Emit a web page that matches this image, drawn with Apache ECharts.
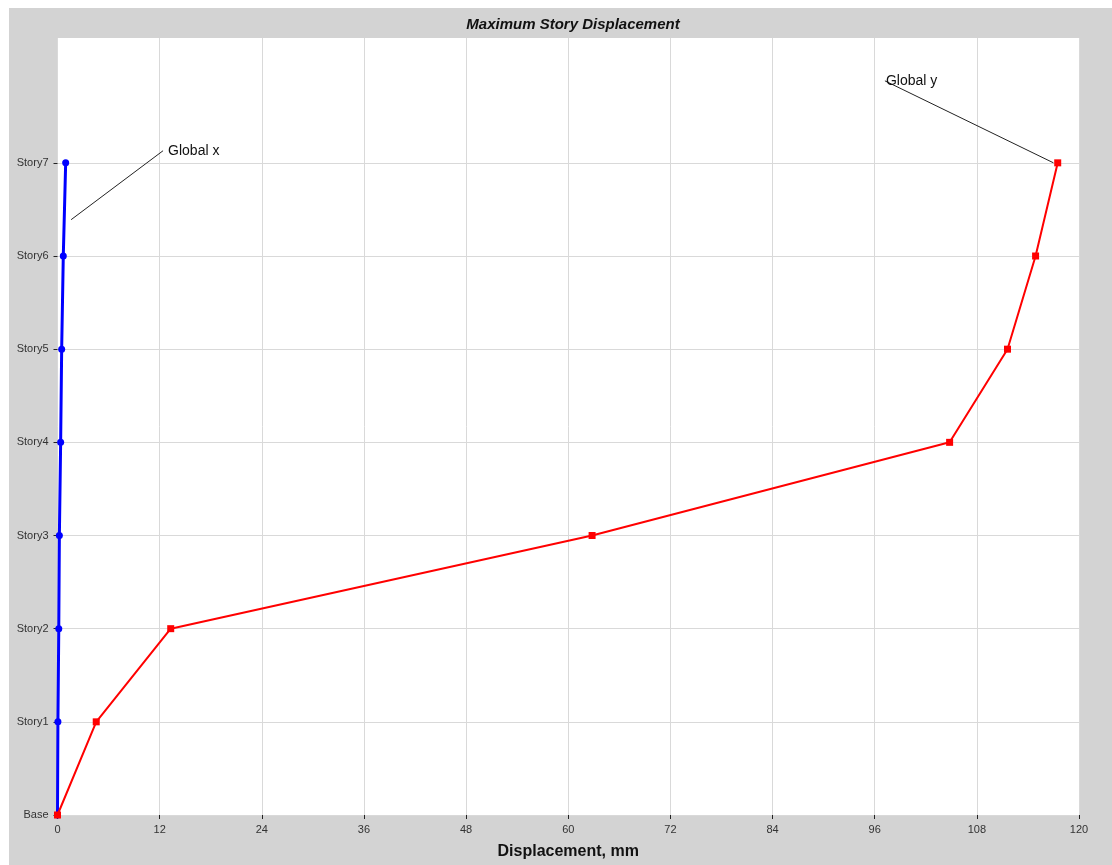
<!DOCTYPE html>
<html>
<head>
<meta charset="utf-8">
<script src="https://cdn.jsdelivr.net/npm/echarts@6/dist/echarts.min.js"></script>
<style>
html,body{margin:0;padding:0;background:#fff;}
#c{position:absolute;left:9px;top:8px;width:1103px;height:857px;}
</style>
</head>
<body>
<div id="c"></div>
<script>
const storyLabels = ['Base','Story1','Story2','Story3','Story4','Story5','Story6','Story7'];
const storyLevels = [0,1,2,3,4,5,6,7];
const globalX = [0, 0.05, 0.15, 0.22, 0.37, 0.49, 0.68, 0.96];
const globalY = [0, 4.55, 13.3, 62.8, 104.8, 111.6, 114.9, 117.5];
const xTicks = [0,12,24,36,48,60,72,84,96,108,120];

const chart = echarts.init(document.getElementById('c'));
const font = 'Liberation Sans, Arial, sans-serif';
const gridColor = '#d9d9d9';
const splitColors = storyLevels.map(()=>gridColor).concat(['transparent','transparent']);

chart.setOption({
  backgroundColor: '#d3d3d3',
  animation: false,
  title: {
    text: 'Maximum Story Displacement',
    left: 559, top: 4, textAlign: 'center',
    textStyle: {fontFamily: font, fontSize: 15, fontWeight: 'bold', fontStyle: 'italic', color: '#111'}
  },
  grid: {left: 48.5, right: 33, top: 30, bottom: 47, show: true, backgroundColor: '#fff', borderWidth: 0},
  xAxis: {
    type: 'value', min: 0, max: 120, interval: 12,
    name: 'Displacement, mm', nameLocation: 'middle', nameGap: 29,
    nameTextStyle: {fontFamily: font, fontSize: 16, fontWeight: 'bold', color: '#111'},
    axisLine: {show: false},
    axisTick: {show: true, inside: false, length: 4, lineStyle: {color: '#222'}, customValues: xTicks},
    axisLabel: {fontFamily: font, fontSize: 11, color: '#333', margin: 9, customValues: xTicks},
    splitLine: {show: true, lineStyle: {color: gridColor, width: 1}}
  },
  yAxis: {
    type: 'value', min: 0, max: 8.34, interval: 1,
    axisLine: {show: false},
    axisTick: {show: true, length: 4, lineStyle: {color: '#222'}, customValues: storyLevels},
    axisLabel: {fontFamily: font, fontSize: 11, color: '#333', margin: 9, customValues: storyLevels,
      formatter: v => storyLabels[v] || ''},
    splitLine: {show: true, lineStyle: {color: splitColors, width: 1}}
  },
  series: [
    {
      name: 'Global x', type: 'line',
      data: storyLevels.map((s,i)=>[globalX[i], s]),
      symbol: 'circle', symbolSize: 7,
      lineStyle: {color: '#0000ff', width: 3},
      itemStyle: {color: '#0000ff'},
      z: 3,
      markLine: {
        silent: true, symbol: 'none', animation: false,
        lineStyle: {color: '#222', width: 1, type: 'solid'},
        label: {show: false},
        data: [[{coord: [1.6, 6.39]}, {coord: [12.4, 7.13]}]]
      },
      markPoint: {
        silent: true, symbol: 'circle', symbolSize: 0,
        label: {show: true, position: 'right', distance: 5, formatter: 'Global x',
          fontFamily: font, fontSize: 14, color: '#111'},
        data: [{coord: [12.4, 7.13]}]
      }
    },
    {
      name: 'Global y', type: 'line',
      data: storyLevels.map((s,i)=>[globalY[i], s]),
      symbol: 'rect', symbolSize: 7,
      lineStyle: {color: '#ff0000', width: 2},
      itemStyle: {color: '#ff0000'},
      z: 4,
      markLine: {
        silent: true, symbol: 'none', animation: false,
        lineStyle: {color: '#222', width: 1, type: 'solid'},
        label: {show: false},
        data: [[{coord: [97.2, 7.88]}, {coord: [117.0, 7.0]}]]
      },
      markPoint: {
        silent: true, symbol: 'circle', symbolSize: 0,
        label: {show: true, position: 'right', distance: 1, formatter: 'Global y',
          fontFamily: font, fontSize: 14, color: '#111'},
        data: [{coord: [97.2, 7.88]}]
      }
    }
  ]
});
</script>
</body>
</html>
